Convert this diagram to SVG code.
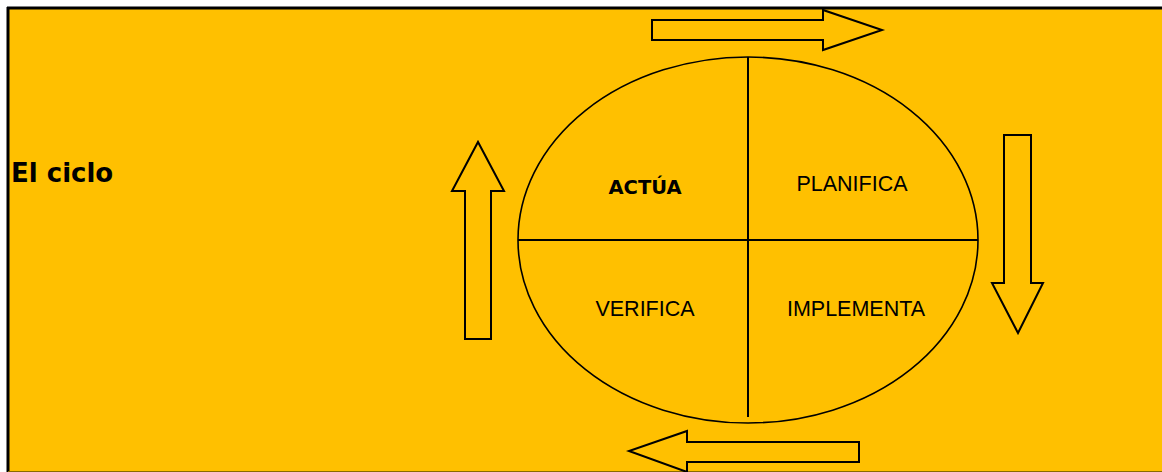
<svg xmlns="http://www.w3.org/2000/svg" width="1162" height="472" viewBox="0 0 1162 472">
  <style>
    .arrow { fill: #FFC000; stroke: #000; stroke-width: 2; stroke-linejoin: miter; }
    .cell { font-family: "Liberation Sans", Arial, sans-serif; font-size: 21.5px; fill: #000; text-anchor: middle; }
    .bold { font-family: "DejaVu Sans", Verdana, sans-serif; font-weight: bold; fill: #000; }
    .line { stroke: #000; stroke-width: 2; }
  </style>
  <rect x="0" y="0" width="1162" height="472" fill="#fff"/>
  <!-- panel -->
  <rect x="8" y="8" width="1160" height="463" fill="#FFC000"/>
  <line x1="7" y1="8" x2="1162" y2="8" stroke="#000" stroke-width="3"/>
  <line x1="8" y1="7" x2="8" y2="472" stroke="#000" stroke-width="3"/>
  <line x1="8" y1="471.5" x2="1162" y2="471.5" stroke="#8a6a00" stroke-width="1"/>

  <g id="title">
    <text class="bold" x="11" y="182" font-size="26">El ciclo</text>
  </g>

  <g id="cycle">
    <ellipse cx="748" cy="240" rx="230" ry="183" fill="none" stroke="#000" stroke-width="1.6"/>
    <line class="line" x1="748" y1="57" x2="748" y2="417"/>
    <line class="line" x1="518" y1="240" x2="978" y2="240"/>
  </g>

  <g id="actua"><text class="bold" x="645" y="194" font-size="19.5" text-anchor="middle">ACTÚA</text></g>
  <g id="planifica"><text class="cell" x="852" y="191">PLANIFICA</text></g>
  <g id="verifica"><text class="cell" x="645" y="316">VERIFICA</text></g>
  <g id="implementa"><text class="cell" x="856" y="316">IMPLEMENTA</text></g>

  <g id="connectors">
    <!-- top: right -->
    <polygon class="arrow" points="652,20 823,20 823,10 882,30 823,50 823,40 652,40"/>
    <!-- right: down -->
    <polygon class="arrow" points="1004,135 1031,135 1031,283 1043,283 1018,333 992,283 1004,283"/>
    <!-- bottom: left -->
    <polygon class="arrow" points="859,442 859,462 687,462 687,472 629,451 687,431 687,442"/>
    <!-- left: up -->
    <polygon class="arrow" points="465,339 491,339 491,191 504,191 478,142 452,191 465,191"/>
  </g>
</svg>
